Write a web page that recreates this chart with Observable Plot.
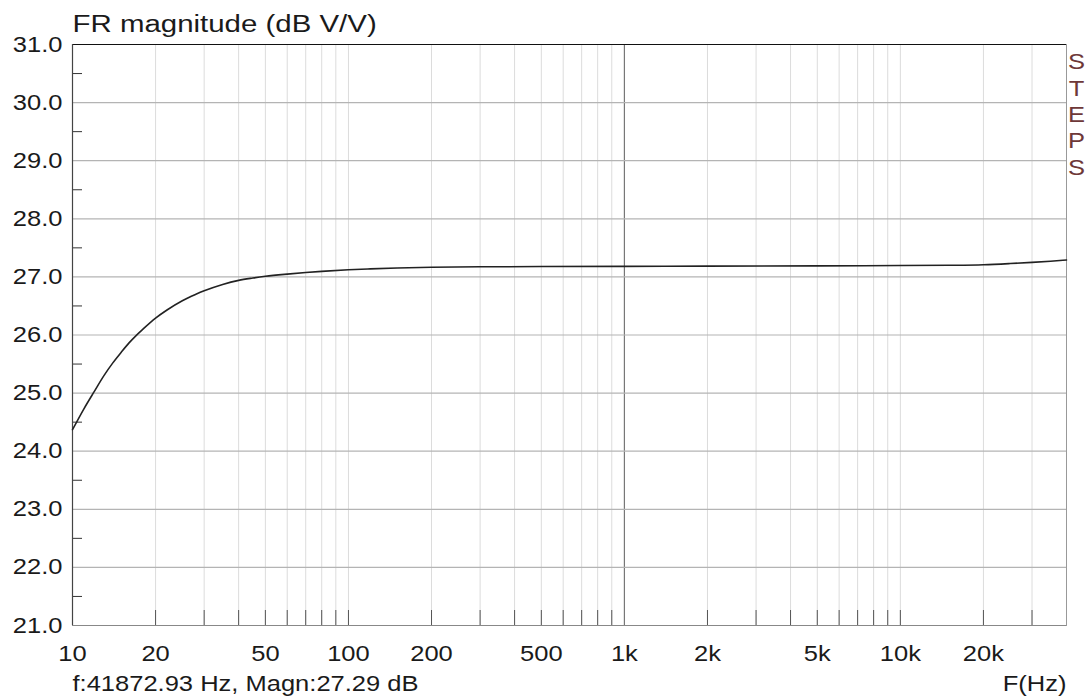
<!DOCTYPE html>
<html>
<head>
<meta charset="utf-8">
<script src="https://cdn.jsdelivr.net/npm/d3@7"></script>
<script src="https://cdn.jsdelivr.net/npm/@observablehq/plot@0.6"></script>
<style>
  html, body { margin: 0; padding: 0; background: #fff; }
</style>
</head>
<body>
<div id="chart"></div>
<script>
// Frequency (Hz) and magnitude (dB V/V)
const freqHz = [10, 11, 12, 13, 14, 15, 16, 17, 18, 20, 22, 25, 28, 30, 35, 40, 45, 50, 60, 70, 80, 100, 120, 150, 200, 300, 500, 1000, 2000, 5000, 10000, 15000, 20000, 25000, 30000, 35000, 40000];
const magDb  = [24.37, 24.73, 25.03, 25.30, 25.52, 25.70, 25.86, 25.99, 26.10, 26.29, 26.43, 26.59, 26.70, 26.76, 26.87, 26.94, 26.98, 27.01, 27.048, 27.075, 27.095, 27.122, 27.138, 27.153, 27.165, 27.174, 27.178, 27.182, 27.185, 27.19, 27.195, 27.20, 27.21, 27.23, 27.25, 27.27, 27.29];

const xLabelTicks = [10, 20, 50, 100, 200, 500, 1000, 2000, 5000, 10000, 20000];
const xGridTicks = [20, 30, 40, 50, 60, 70, 80, 90, 100, 200, 300, 400, 500, 600, 700, 800, 900, 2000, 3000, 4000, 5000, 6000, 7000, 8000, 9000, 10000, 20000, 30000];
const xMajorGrid = [1000];
const yLabelTicks = [21, 22, 23, 24, 25, 26, 27, 28, 29, 30, 31];
const yGridTicks = [22, 23, 24, 25, 26, 27, 28, 29, 30];
const yMinorTicks = [21.5, 22.5, 23.5, 24.5, 25.5, 26.5, 27.5, 28.5, 29.5, 30.5];

const titleText = "FR magnitude (dB V/V)";
const statusText = "f:41872.93 Hz, Magn:27.29 dB";
const xAxisText = "F(Hz)";
const sideText = "S\nT\nE\nP\nS";

const data = freqHz.map((f, i) => ({f, m: magDb[i]}));
const fmtHz = d => d >= 1000 ? (d / 1000) + "k" : String(d);

const W = 1091, H = 699, mL = 72, mR = 25, mT = 44, mB = 74;
const frameH = H - mT - mB, frameW = W - mL - mR;
const ink = "#1a1a1a";

const chart = Plot.plot({
  width: W,
  height: H,
  marginLeft: mL,
  marginRight: mR,
  marginTop: mT,
  marginBottom: mB,
  style: {fontFamily: "'Liberation Sans', Arial, sans-serif", fontSize: "22px", color: ink, background: "#fff"},
  x: {type: "log", domain: [10, 40000], axis: null, label: null},
  y: {domain: [21, 31], axis: null, label: null},
  marks: [
    Plot.ruleX(xGridTicks, {stroke: "#dcdcdc", strokeWidth: 1}),
    Plot.ruleX(xMajorGrid, {stroke: "#777", strokeWidth: 1.2}),
    Plot.ruleY(yGridTicks, {stroke: "#b4b4b4", strokeWidth: 1.2}),
    Plot.tickX(xGridTicks, {stroke: "#555", insetTop: frameH - 15}),
    Plot.tickY(yMinorTicks, {stroke: "#333", insetRight: frameW - 10}),
    Plot.frame({stroke: "#999"}),
    Plot.ruleY([31], {stroke: "#111", strokeWidth: 1.2}),
    Plot.ruleY([21], {stroke: "#888", strokeWidth: 1.2}),
    Plot.ruleX([10], {stroke: "#444", strokeWidth: 1.2}),
    Plot.line(data, {x: "f", y: "m", stroke: "#222", strokeWidth: 1.6, curve: "monotone-x"}),
    Plot.text(xLabelTicks, {x: d => d, text: fmtHz, frameAnchor: "bottom", lineAnchor: "top", dy: 20, fontSize: 22, fill: ink, className: "stretch"}),
    Plot.text(yLabelTicks, {y: d => d, text: d => d.toFixed(1), frameAnchor: "left", textAnchor: "end", dx: -10, fontSize: 22, fill: ink, className: "stretch"}),
    Plot.text([titleText], {frameAnchor: "top-left", textAnchor: "start", lineAnchor: "bottom", dy: -13, fontSize: 23, fill: ink, className: "stretch-title"}),
    Plot.text([statusText], {frameAnchor: "bottom-left", textAnchor: "start", lineAnchor: "bottom", dy: 65, fontSize: 22, fill: ink, className: "stretch"}),
    Plot.text([xAxisText], {frameAnchor: "bottom-right", textAnchor: "end", lineAnchor: "bottom", dy: 65, fontSize: 22, fill: ink, className: "stretch"}),
    Plot.text([sideText], {frameAnchor: "top-right", textAnchor: "middle", lineAnchor: "top", dx: 10, dy: 6, fontSize: 22, lineHeight: 1.2, fill: "#6e3838", className: "stretch"})
  ]
});

// The reference's lettering is slightly wider than it is tall: stretch text horizontally around its anchor.
function stretch(sel, k) {
  chart.querySelectorAll(sel + " text").forEach(t => {
    const tr = t.getAttribute("transform") || "";
    t.setAttribute("transform", tr + ` scale(${k},1)`);
  });
}
stretch(".stretch", 1.16);
stretch(".stretch-title", 1.28);

document.getElementById("chart").appendChild(chart);
</script>
</body>
</html>
